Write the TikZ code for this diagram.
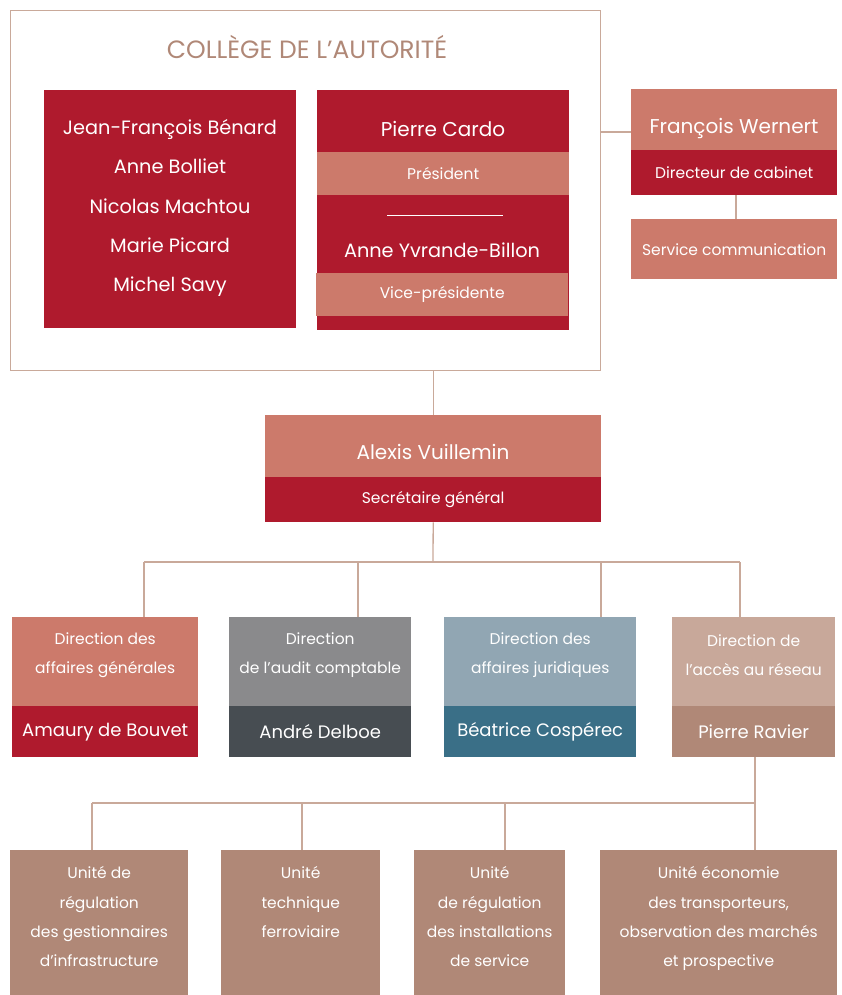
\documentclass[tikz,border=0pt]{standalone}
\usepackage{fontspec}
\setmainfont{Poppins}
\usetikzlibrary{positioning,calc}
\definecolor{redc}{HTML}{AF1A2D}
\definecolor{salmon}{HTML}{CC7A6B}
\definecolor{linec}{HTML}{C9A99A}
\definecolor{titlec}{HTML}{B08877}
\definecolor{greyl}{HTML}{8A8A8C}
\definecolor{greyd}{HTML}{474D52}
\definecolor{bluel}{HTML}{91A6B3}
\definecolor{blued}{HTML}{3A6F87}
\definecolor{beige}{HTML}{C8A89A}
\definecolor{brownc}{HTML}{B08877}
\newcommand{\panel}[6][]{
  % filled box, anchored at its top left corner
  % parameter 1 (optional): style options (fill, font)
  % parameter 2: node name, 3: corner x,y, 4: width, 5: height, 6: text
  \node[panel,#1,minimum width=#4pt,minimum height=#5pt] (#2) at (#3) {#6};
}
\tikzset{
  panel/.style={anchor=north west, inner sep=0pt, text=white, align=center},
  link/.style={draw=linec, line width=1.3pt},
  bigname/.style={text=white, font=\fontsize{20}{39.25}\selectfont},
  listname/.style={text=white, font=\fontsize{19.3}{39.25}\selectfont},
  dirname/.style={text=white, font=\fontsize{18}{18}\selectfont},
  role/.style={text=white, font=\fontsize{15.5}{29}\selectfont},
  unittext/.style={text=white, font=\fontsize{15.5}{29.4}\selectfont},
}
\begin{document}
\begin{tikzpicture}[x=1pt,y=-1pt]
  \useasboundingbox (0,0) rectangle (842,995);
  % college
  \node[draw=linec, line width=1.3pt, anchor=north west, inner sep=0pt,
        minimum width=590pt, minimum height=360pt] (college) at (10,10) {};
  \node[text=titlec, font=\fontsize{25}{25}\selectfont] (ctitle) at (307,47) {COLLÈGE DE L’AUTORITÉ};
  \panel[fill=redc]{members}{44,90}{252}{238}{}
  \node[listname, align=center] (mnames) at (170,208)
    {Jean-François Bénard\\Anne Bolliet\\Nicolas Machtou\\Marie Picard\\Michel Savy};
  \panel[fill=redc]{presid}{317,90}{252}{240}{}
  \node[bigname] (cardo) at (443,129) {Pierre Cardo};
  \panel[fill=salmon, role]{prole}{317,152}{252}{43}{Président}
  \draw[white, line width=0.8pt] (387,215) -- (503,215);
  \node[listname] (yvrande) at (442,250) {Anne Yvrande-Billon};
  \panel[fill=salmon, role]{vprole}{316,273}{252}{43}{Vice-présidente}

  % cabinet
  \panel[fill=salmon]{wernert}{631,89}{206}{61}{}
  \node[bigname] (wname) at (734,128) {François Wernert};
  \panel[fill=redc, role]{wrole}{631,150}{206}{45}{Directeur de cabinet}
  \panel[fill=salmon, role]{comm}{631,219}{206}{60}{Service communication}
  \draw[link] (college.east |- 0,132) -- (wernert.west |- 0,132);
  \draw[link] (wrole.south -| 736,0) -- (comm.north -| 736,0);

  % secretary general
  \panel[fill=salmon]{sg}{265,415}{336}{62}{}
  \node[bigname] (sgname) at (433,452) {Alexis Vuillemin};
  \panel[fill=redc, role]{sgrole}{265,477}{336}{45}{Secrétaire général}
  \draw[link] (sg.north |- college.south) -- (sg.north);

  % directions
  \panel[fill=salmon]{da}{12,617}{186}{89}{}
  \panel[fill=redc]{dab}{12,706}{186}{51}{}
  \panel[fill=greyl]{db}{229,617}{182}{89}{}
  \panel[fill=greyd]{dbb}{229,706}{182}{51}{}
  \panel[fill=bluel]{dc}{444,617}{192}{89}{}
  \panel[fill=blued]{dcb}{444,706}{192}{51}{}
  \panel[fill=beige]{dd}{672,617}{163}{89}{}
  \panel[fill=brownc]{ddb}{672,706}{163}{51}{}
  \node[role, align=center] (dat) at ($(da.north)+(0,38)$) {Direction des\\affaires générales};
  \node[role, align=center] (dbt) at ($(db.north)+(0,38)$) {Direction\\de l’audit comptable};
  \node[role, align=center] (dct) at ($(dc.north)+(0,38)$) {Direction des\\affaires juridiques};
  \node[role, align=center] (ddt) at ($(dd.north)+(0,38)$) {Direction de\\l’accès au réseau};
  \node[dirname] (dan) at (dab) {Amaury de Bouvet};
  \node[dirname] (dbn) at (dbb) {André Delboe};
  \node[dirname] (dcn) at (dcb) {Béatrice Cospérec};
  \node[dirname] (ddn) at (ddb) {Pierre Ravier};
  \coordinate (dhub) at (433,562);
  \draw[link] (sgrole.south) -- (dhub);
  \draw[link] (144,562) -- (740,562);
  \draw[link] (144,562) -- (da.north -| 144,0);
  \draw[link] (358,562) -- (db.north -| 358,0);
  \draw[link] (601,562) -- (dc.north -| 601,0);
  \draw[link] (740,562) -- (dd.north -| 740,0);

  % units
  \panel[fill=brownc]{ua}{10,850}{178}{145}{}
  \panel[fill=brownc]{ub}{221,850}{159}{145}{}
  \panel[fill=brownc]{uc}{414,850}{151}{145}{}
  \panel[fill=brownc]{ud}{600,850}{237}{145}{}
  \node[unittext, align=center, anchor=north] (uat) at ($(ua.north)+(0,13)$)
    {Unité de\\régulation\\des gestionnaires\\d’infrastructure};
  \node[unittext, align=center, anchor=north] (ubt) at ($(ub.north)+(0,13)$)
    {Unité\\technique\\ferroviaire};
  \node[unittext, align=center, anchor=north] (uct) at ($(uc.north)+(0,13)$)
    {Unité\\de régulation\\des installations\\de service};
  \node[unittext, align=center, anchor=north] (udt) at ($(ud.north)+(0,13)$)
    {Unité économie\\des transporteurs,\\observation des marchés\\et prospective};
  \coordinate (uhub) at (755,803);
  \draw[link] (ddb.south -| uhub) -- (uhub);
  \draw[link] (92,803) -- (uhub);
  \draw[link] (92,803) -- (ua.north -| 92,0);
  \draw[link] (302,803) -- (ub.north -| 302,0);
  \draw[link] (505,803) -- (uc.north -| 505,0);
  \draw[link] (uhub) -- (ud.north -| uhub);
\end{tikzpicture}
\end{document}
